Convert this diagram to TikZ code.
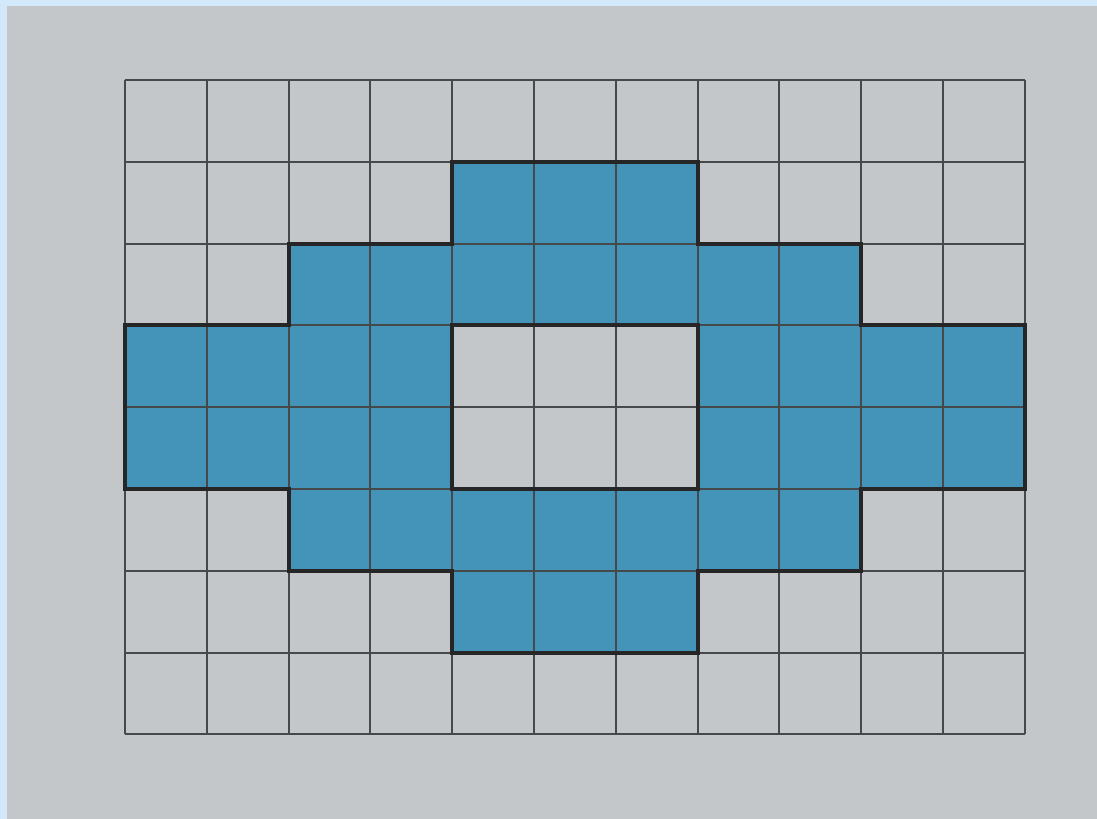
\documentclass[tikz,border=0pt]{standalone}
\definecolor{paper}{RGB}{196,199,201}
\definecolor{frameblue}{RGB}{212,232,251}
\definecolor{tileblue}{RGB}{68,148,186}
\definecolor{pencil}{RGB}{70,72,74}
\tikzset{
  gridline/.style={pencil, line width=.7pt},
  outline/.style={black!85, line width=1.4pt, line join=miter},
}
\begin{document}
\begin{tikzpicture}
% paper and frame
\fill[frameblue] (-1.528,-1.034) rectangle (11.883,8.978);
\fill[paper] (-1.442,-1.034) rectangle (11.883,8.905);
\useasboundingbox (-1.528,-1.034) rectangle (11.883,8.978);
% shaded ring
\fill[tileblue, even odd rule] (4,7) -- (7,7) -- (7,6) -- (9,6) -- (9,5) -- (11,5) -- (11,3) -- (9,3) -- (9,2) -- (7,2) -- (7,1) -- (4,1) -- (4,2) -- (2,2) -- (2,3) -- (0,3) -- (0,5) -- (2,5) -- (2,6) -- (4,6) -- cycle
  (4,3) rectangle (7,5);
% squares
\draw[gridline] (0,0) grid (11,8);
% border of the ring
\draw[outline] (4,7) -- (7,7) -- (7,6) -- (9,6) -- (9,5) -- (11,5) -- (11,3) -- (9,3) -- (9,2) -- (7,2) -- (7,1) -- (4,1) -- (4,2) -- (2,2) -- (2,3) -- (0,3) -- (0,5) -- (2,5) -- (2,6) -- (4,6) -- cycle;
\draw[outline] (4,3) rectangle (7,5);
\end{tikzpicture}
\end{document}
